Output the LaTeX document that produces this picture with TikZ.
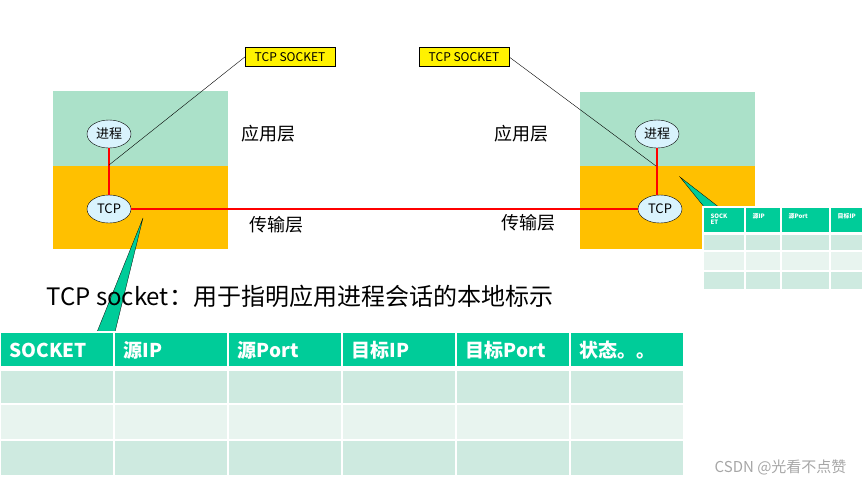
\documentclass[tikz,border=0pt]{standalone}
\usepackage{fontspec}
\setmainfont{Noto Sans CJK SC}
\begin{document}
\begin{tikzpicture}[x=1pt,y=-1pt,
  proc/.style={ellipse,draw=black,fill=cyan!15,minimum width=44pt,minimum height=28pt,inner sep=0pt,font=\fontsize{13}{13}\selectfont},
  lay/.style={font=\fontsize{18}{18}\selectfont},
  sock/.style={draw=black,fill=yellow,font=\fontsize{12}{12}\selectfont,inner sep=2pt,minimum width=90pt,minimum height=19pt},
  red/.style={draw=red,line width=1.5pt},
  cell/.style={draw=white,line width=1.5pt},
  hd/.style={font=\bfseries\fontsize{19}{19}\selectfont,text=white,anchor=west},
  shd/.style={font=\bfseries\fontsize{6}{6}\selectfont,text=white,anchor=north west,align=left}]
\usetikzlibrary{shapes.geometric}
\useasboundingbox (0,0) rectangle (862,488);
\definecolor{app}{HTML}{ABE1C9}\definecolor{tr}{HTML}{FFC000}
\definecolor{hg}{HTML}{00CC99}\definecolor{r1}{HTML}{CEEAE0}\definecolor{r2}{HTML}{E8F4EF}
\fill[app] (53,91) rectangle (228,166); \fill[tr] (53,166) rectangle (228,249);
\fill[app] (580,92) rectangle (755,166); \fill[tr] (580,166) rectangle (755,249);
\node[proc] (p1) at (109,134) {进程};
\node[proc] (t1) at (109,209) {TCP};
\node[proc] (p2) at (657,134) {进程};
\node[proc] (t2) at (660,209) {TCP};
\draw[red] (p1) -- (t1);
\draw[red] (p2.south) -- (p2.south |- t2.north);
\draw[red] (t1.east) -- (t2.west);
\node[lay] (a1) at (268,134) {应用层};
\node[lay] (b1) at (276,225) {传输层};
\node[lay] (a2) at (521,134) {应用层};
\node[lay] (b2) at (528,223) {传输层};
\node[sock] (s1) at (290,57) {TCP SOCKET};
\node[sock] (s2) at (464,57) {TCP SOCKET};
\coordinate (c1) at (109,165); \coordinate (c2) at (656,166);
\draw (s1.west) -- (c1);
\draw (s2.east) -- (c2);
\fill[hg,draw=black,line width=0.3pt] (143,218) -- (97,332) -- (115,332) -- cycle;
\fill[hg,draw=black,line width=0.3pt] (680,177) -- (705,208) -- (720,208) -- cycle;
\node[anchor=west,font=\fontsize{24}{24}\selectfont] (tx) at (43,296) {TCP socket：用于指明应用进程会话的本地标示};
\foreach \i/\t in {0/SOCKET,1/源IP,2/源Port,3/目标IP,4/目标Port,5/状态。。}{
  \fill[hg,cell] (\i*114,332) rectangle (\i*114+114,367);
  \node[hd] at (\i*114+6,350) {\t};
  \fill[r1,cell] (\i*114,370) rectangle (\i*114+114,404);
  \fill[r2,cell] (\i*114,404) rectangle (\i*114+114,440);
  \fill[r1,cell] (\i*114,440) rectangle (\i*114+114,476);
}
\foreach \a/\b/\t in {703/745/{SOCK\\ET},745/781/源IP,781/830/源Port,830/875/目标IP}{
  \fill[hg,cell] (\a,207) rectangle (\b,233);
  \node[shd] at (\a+4,210) {\t};
  \fill[r1,cell] (\a,234) rectangle (\b,251);
  \fill[r2,cell] (\a,251) rectangle (\b,271);
  \fill[r1,cell] (\a,271) rectangle (\b,290);
}
\node[anchor=east,text=gray!70,font=\fontsize{15}{15}\selectfont] (wm) at (850,467) {CSDN @光看不点赞};
\end{tikzpicture}
\end{document}
